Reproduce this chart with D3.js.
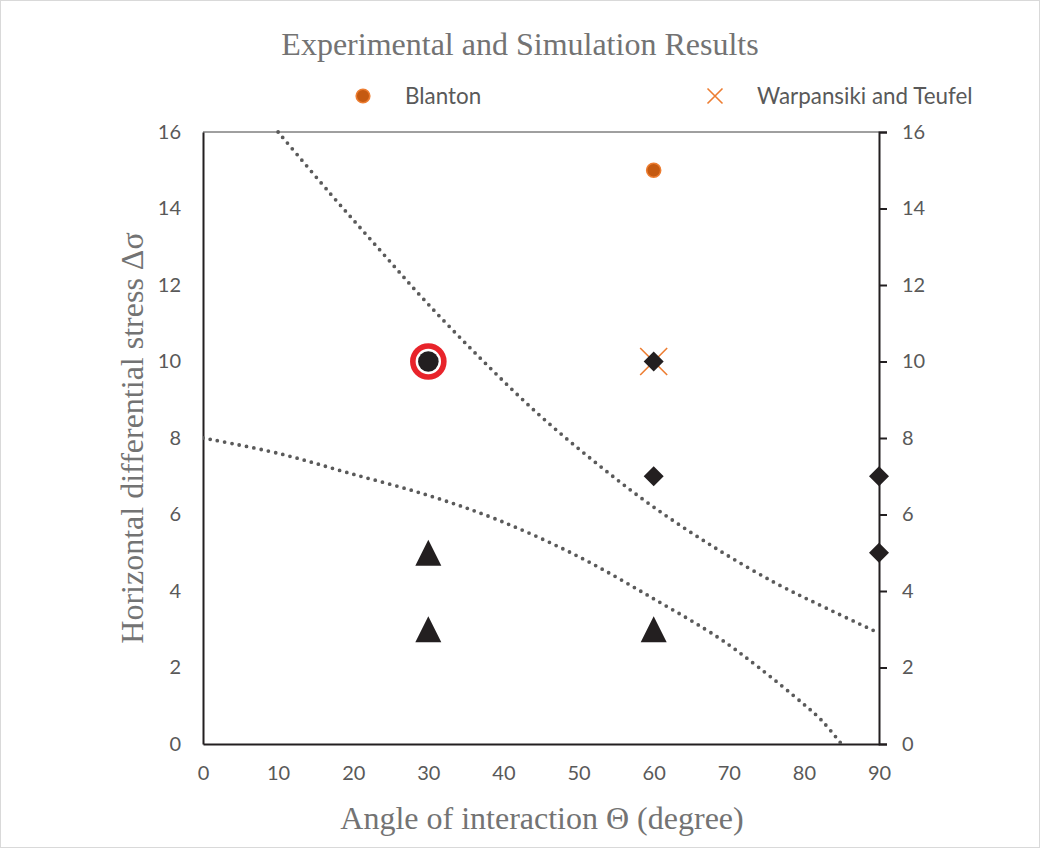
<!DOCTYPE html>
<html>
<head>
<meta charset="utf-8">
<script src="https://cdn.jsdelivr.net/npm/d3@7"></script>
<style>
  html, body { margin: 0; padding: 0; background: #fff; }
  svg { display: block; }
</style>
</head>
<body>
<svg id="chart" width="1040" height="848"></svg>
<script>
// Axis ticks
const xTicks = [0, 10, 20, 30, 40, 50, 60, 70, 80, 90];
const yTicks = [0, 2, 4, 6, 8, 10, 12, 14, 16];

// Simulation results (filled black markers)
const triangles = [[30, 5], [30, 3], [60, 3]];
const diamonds = [[60, 10], [60, 7], [90, 7], [90, 5]];
const circled = [[30, 10]];

// Experimental results
const blanton = [[60, 15]];
const warpansiki = [[60, 10]];

// Dotted boundary curves
const upperBoundary = [[10, 16], [16.9, 14.4], [23.3, 12.97], [29.6, 11.58], [37, 10.07], [44.5, 8.65],
  [52, 7.4], [59.6, 6.25], [68, 5.15], [76.3, 4.2], [83, 3.55], [90, 2.9]];
const lowerBoundary = [[0, 8], [10, 7.6], [19.5, 7.08], [30, 6.5], [39.5, 5.84], [50, 4.9],
  [59.8, 3.82], [68.7, 2.77], [74, 2.0], [79.8, 1.07], [82.3, 0.63], [85, 0]];

const legendItems = ["Blanton", "Warpansiki and Teufel"];

const svg = d3.select("#chart");
const W = 1040, H = 848;
const L = 203, R = 879, T = 132, B = 744;

const x = d3.scaleLinear().domain([0, 90]).range([L, R]);
const y = d3.scaleLinear().domain([0, 16]).range([B, T]);

const gray = "#595959";
const titleGray = "#737373";
const ink = "#231f20";
const orange = "#ed7d31";
const sans = "Lato, 'Open Sans', sans-serif";
const serif = "'Liberation Serif', 'Times New Roman', serif";

// outer frame
svg.append("rect").attr("x", 0.5).attr("y", 0.5).attr("width", W - 1).attr("height", H - 1)
  .attr("fill", "#fff").attr("stroke", "#d9d9d9");

// title
svg.append("text").attr("x", 520).attr("y", 55).attr("text-anchor", "middle")
  .attr("font-family", serif).attr("font-size", 32).attr("fill", titleGray)
  .text("Experimental and Simulation Results");

// legend
const leg = svg.append("g").attr("font-family", sans).attr("font-size", 22.4).attr("fill", gray);
leg.append("circle").attr("cx", 363).attr("cy", 96).attr("r", 6.8)
  .attr("fill", "#c55a11").attr("stroke", orange).attr("stroke-width", 1.6);
leg.append("text").attr("x", 405).attr("y", 104).text(legendItems[0]);
const lx = 715, ly = 96, ls = 7.5;
leg.append("path").attr("d", `M${lx - ls},${ly - ls}L${lx + ls},${ly + ls}M${lx - ls},${ly + ls}L${lx + ls},${ly - ls}`)
  .attr("stroke", orange).attr("stroke-width", 1.6).attr("fill", "none");
leg.append("text").attr("x", 757).attr("y", 104).text(legendItems[1]);

// plot frame: top edge thin, others heavier
svg.append("line").attr("x1", L).attr("x2", R).attr("y1", T).attr("y2", T)
  .attr("stroke", "#404040").attr("stroke-width", 1);

// axes
const axisStyle = g => {
  g.selectAll("text").attr("font-family", sans).attr("font-size", 20).attr("fill", gray);
  g.select(".domain").attr("stroke", ink).attr("stroke-width", 2);
};

svg.append("g").attr("transform", `translate(0,${B})`)
  .call(d3.axisBottom(x).tickValues(xTicks).tickSize(0).tickPadding(22))
  .call(axisStyle);

svg.append("g").attr("transform", `translate(${L},0)`)
  .call(d3.axisLeft(y).tickValues(yTicks).tickSize(0).tickPadding(22))
  .call(axisStyle);

svg.append("g").attr("transform", `translate(${R},0)`)
  .call(d3.axisRight(y).tickValues(yTicks).tickSize(8).tickPadding(15))
  .call(axisStyle)
  .call(g => g.selectAll(".tick line").attr("stroke", ink).attr("stroke-width", 2));

// axis titles
svg.append("text").attr("x", 542).attr("y", 829).attr("text-anchor", "middle")
  .attr("font-family", serif).attr("font-size", 32).attr("fill", titleGray)
  .text("Angle of interaction Θ (degree)");
svg.append("text").attr("transform", `translate(143,${(T + B) / 2 - 0}) rotate(-90)`)
  .attr("text-anchor", "middle")
  .attr("font-family", serif).attr("font-size", 32).attr("fill", titleGray)
  .text("Horizontal differential stress Δσ");

// dotted curves
const line = d3.line().x(d => x(d[0])).y(d => y(d[1])).curve(d3.curveCatmullRom.alpha(0.5));
const plot = svg.append("g");
const clip = svg.append("clipPath").attr("id", "plotclip");
clip.append("rect").attr("x", L).attr("y", T - 2).attr("width", R - L + 2).attr("height", B - T + 2);
[upperBoundary, lowerBoundary].forEach(d => {
  plot.append("path").datum(d).attr("d", line)
    .attr("clip-path", "url(#plotclip)")
    .attr("fill", "none").attr("stroke", "#5a5a5a").attr("stroke-width", 3.8)
    .attr("stroke-linecap", "round").attr("stroke-dasharray", "0 7.4");
});

// Blanton marker
plot.selectAll(".blanton").data(blanton).join("circle")
  .attr("cx", d => x(d[0])).attr("cy", d => y(d[1])).attr("r", 7)
  .attr("fill", "#c55a11").attr("stroke", orange).attr("stroke-width", 1.6);

// Warpansiki and Teufel marker
plot.selectAll(".warp").data(warpansiki).join("path")
  .attr("d", d => {
    const cx = x(d[0]), cy = y(d[1]), s = 13.5;
    return `M${cx - s},${cy - s}L${cx + s},${cy + s}M${cx - s},${cy + s}L${cx + s},${cy - s}`;
  })
  .attr("stroke", orange).attr("stroke-width", 1.6).attr("fill", "none");

// triangles
plot.selectAll(".tri").data(triangles).join("path")
  .attr("d", d => {
    const cx = x(d[0]), cy = y(d[1]), w = 13, h = 13;
    return `M${cx},${cy - h}L${cx + w},${cy + h}L${cx - w},${cy + h}Z`;
  })
  .attr("fill", ink);

// diamonds
plot.selectAll(".dia").data(diamonds).join("path")
  .attr("d", d => {
    const cx = x(d[0]), cy = y(d[1]), s = 10;
    return `M${cx},${cy - s}L${cx + s},${cy}L${cx},${cy + s}L${cx - s},${cy}Z`;
  })
  .attr("fill", ink);

// circled point
const cg = plot.selectAll(".circ").data(circled).join("g");
cg.append("circle").attr("cx", d => x(d[0])).attr("cy", d => y(d[1])).attr("r", 15.5)
  .attr("fill", "#fff").attr("stroke", "#e8242b").attr("stroke-width", 5.6);
cg.append("circle").attr("cx", d => x(d[0])).attr("cy", d => y(d[1])).attr("r", 10.3)
  .attr("fill", ink);
</script>
</body>
</html>
